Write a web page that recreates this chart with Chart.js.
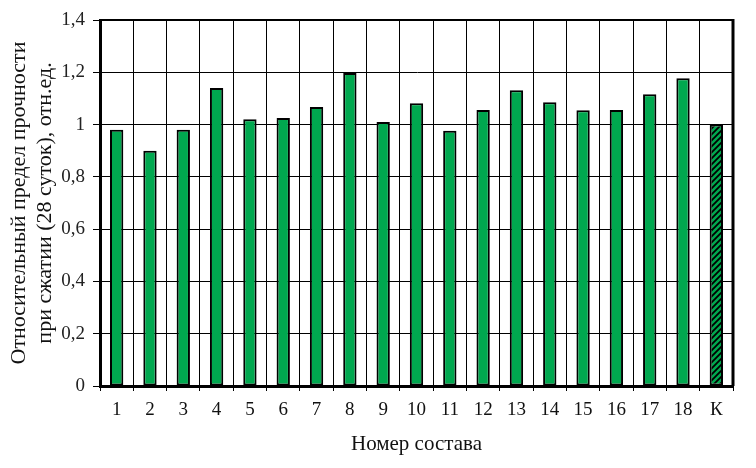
<!DOCTYPE html>
<html>
<head>
<meta charset="utf-8">
<script src="https://cdn.jsdelivr.net/npm/chart.js@4"></script>
<style>
  html, body { margin: 0; padding: 0; background: #fff; }
  #wrap { width: 756px; height: 468px; }
</style>
</head>
<body>
<div id="wrap"><canvas id="chart" width="756" height="468"></canvas></div>
<script>
const labels = ['1','2','3','4','5','6','7','8','9','10','11','12','13','14','15','16','17','18','К'];
const values = [0.98, 0.90, 0.98, 1.14, 1.02, 1.025, 1.067, 1.197, 1.01, 1.082, 0.976, 1.056, 1.131, 1.085, 1.055, 1.056, 1.116, 1.177, 1.0];
const yTicks = [0, 0.2, 0.4, 0.6, 0.8, 1, 1.2, 1.4];
const yTitle = ['Относительный предел прочности', 'при сжатии (28 суток), отн.ед.'];
const xTitle = 'Номер состава';

const FONT = '"Liberation Serif", "Times New Roman", serif';
const GREEN = '#00a84f';

// штриховка для контрольного состава
function makeHatch() {
  const c = document.createElement('canvas');
  c.width = 6; c.height = 6;
  const g = c.getContext('2d');
  g.fillStyle = GREEN;
  g.fillRect(0, 0, 6, 6);
  g.strokeStyle = '#000';
  g.lineWidth = 1.8;
  g.beginPath();
  g.moveTo(-1, 7); g.lineTo(7, -1);
  g.moveTo(-4, 4); g.lineTo(4, -4);
  g.moveTo(2, 10); g.lineTo(10, 2);
  g.stroke();
  return document.getElementById('chart').getContext('2d').createPattern(c, 'repeat');
}
const hatch = makeHatch();
const colors = labels.map(l => l === 'К' ? hatch : GREEN);

// рамка сверху и справа
const framePlugin = {
  id: 'frame',
  afterDraw(chart) {
    const { ctx, chartArea: a } = chart;
    ctx.save();
    ctx.strokeStyle = '#000';
    ctx.lineWidth = 2;
    ctx.beginPath();
    ctx.moveTo(a.left, a.top);
    ctx.lineTo(a.right, a.top);
    ctx.stroke();
    ctx.lineWidth = 3;
    ctx.beginPath();
    ctx.moveTo(a.right, a.top - 1);
    ctx.lineTo(a.right, a.bottom);
    ctx.stroke();
    ctx.restore();
  }
};

new Chart(document.getElementById('chart'), {
  type: 'bar',
  data: {
    labels: labels,
    datasets: [{
      data: values,
      backgroundColor: colors,
      borderColor: '#000',
      borderWidth: 2,
      borderSkipped: false,
      barPercentage: 0.4,
      categoryPercentage: 1.0
    }]
  },
  options: {
    responsive: false,
    animation: false,
    layout: { padding: { left: 0, top: 20, right: 23, bottom: 0 } },
    plugins: { legend: { display: false }, tooltip: { enabled: false } },
    scales: {
      x: {
        grid: { color: '#000', lineWidth: 1, offset: true, tickLength: 5, drawTicks: true },
        border: { color: '#000', width: 3 },
        ticks: { color: '#111', font: { family: FONT, size: 19 }, padding: 8, maxRotation: 0 },
        title: { display: true, text: xTitle, color: '#111', font: { family: FONT, size: 21 }, padding: { top: 10, bottom: 11 } },
        afterFit(s) { s.height = 82; }
      },
      y: {
        min: 0,
        max: 1.4,
        afterBuildTicks(s) { s.ticks = yTicks.map(v => ({ value: v })); },
        grid: { color: '#000', lineWidth: 1, tickLength: 7 },
        border: { color: '#000', width: 3 },
        ticks: {
          color: '#222',
          font: { family: FONT, size: 19 },
          padding: 8,
          callback: v => String(v).replace('.', ',')
        },
        title: { display: true, text: yTitle, color: '#111', font: { family: FONT, size: 22, lineHeight: 1.15 }, padding: { top: 7, bottom: 6 } },
        afterFit(s) { s.width = 100; }
      }
    }
  },
  plugins: [framePlugin]
});
</script>
</body>
</html>
